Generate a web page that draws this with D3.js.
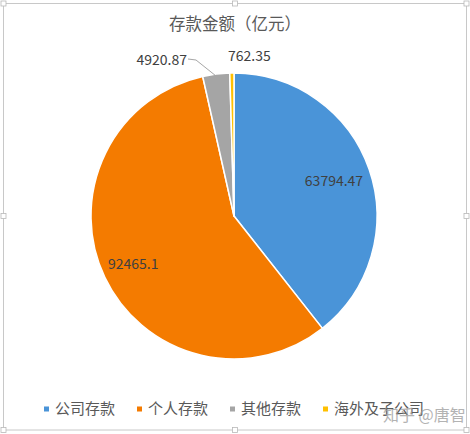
<!DOCTYPE html>
<html><head><meta charset="utf-8">
<script src="https://cdn.jsdelivr.net/npm/d3@7"></script>
<style>body{margin:0;background:#fff}svg{display:block}</style>
</head><body>
<script>
const categories = ["公司存款", "个人存款", "其他存款", "海外及子公司"];
const values = [63794.47, 92465.1, 4920.87, 762.35];
const labels = ["63794.47", "92465.1", "4920.87", "762.35"];
const colors = ["#4a94d8", "#f47b00", "#a5a5a5", "#ffc000"];
const title = "存款金额（亿元）";

const W = 470, H = 434;
const svg = d3.select("body").append("svg").attr("width", W).attr("height", H);
const font = "'Noto Sans CJK SC','Liberation Sans',sans-serif";

// frame
svg.append("rect").attr("x", 3.5).attr("y", 3.5).attr("width", 463).attr("height", 426.5)
  .attr("fill", "#fff").attr("stroke", "#c8c8c8").attr("stroke-width", 1);
const handles = [[3.5,3.5],[235,3.5],[466.5,3.5],[3.5,216],[466.5,216],[3.5,430],[235,430],[466.5,430]];
svg.selectAll("rect.h").data(handles).join("rect").attr("class","h")
  .attr("x", d => d[0]-2.5).attr("y", d => d[1]-2.5).attr("width", 5).attr("height", 5)
  .attr("fill", "#fff").attr("stroke", "#b8b8b8").attr("stroke-width", 0.8);

// title
svg.append("text").attr("x", 235).attr("y", 30).attr("text-anchor", "middle")
  .attr("font-family", font).attr("font-size", 16.5).attr("fill", "#595959").text(title);

// pie
const cx = 234, cy = 216, R = 143;
const pie = d3.pie().sort(null).value(d => d)(values);
const arc = d3.arc().innerRadius(0).outerRadius(R);
const g = svg.append("g").attr("transform", `translate(${cx},${cy})`);
g.selectAll("path").data(pie).join("path")
  .attr("d", arc).attr("fill", (d,i) => colors[i])
  .attr("stroke", "#fff").attr("stroke-width", 1.5).attr("stroke-linejoin", "round");

// labels
const lblFont = 14;
const lblRatio = [0.74, 0.78];
[0,1].forEach(i => {
  const r = R * lblRatio[i];
  const c = d3.arc().innerRadius(r).outerRadius(r).centroid(pie[i]);
  g.append("text").attr("x", c[0]).attr("y", c[1]).attr("dy", "0.35em")
    .attr("text-anchor", "middle").attr("font-family", font).attr("font-size", lblFont)
    .attr("fill", "#404040").text(labels[i]);
});
// outside labels with leader for small slices
const outer2 = d3.arc().innerRadius(R).outerRadius(R).centroid(pie[2]);
svg.append("polyline")
  .attr("points", `${cx-46},${cy-157} ${cx-38},${cy-156} ${cx+outer2[0]},${cy+outer2[1]+2}`)
  .attr("fill", "none").attr("stroke", "#a6a6a6").attr("stroke-width", 1);
svg.append("text").attr("x", cx-47).attr("y", cy-156).attr("dy", "0.35em")
  .attr("text-anchor", "end").attr("font-family", font).attr("font-size", lblFont)
  .attr("fill", "#404040").text(labels[2]);
svg.append("text").attr("x", cx-6).attr("y", cy-160).attr("dy", "0.35em")
  .attr("text-anchor", "start").attr("font-family", font).attr("font-size", lblFont)
  .attr("fill", "#404040").text(labels[3]);

// legend
const legX = [44, 137, 230, 323];
const lg = svg.append("g");
categories.forEach((c, i) => {
  lg.append("rect").attr("x", legX[i]).attr("y", 406.5).attr("width", 5).attr("height", 5).attr("fill", colors[i]);
  lg.append("text").attr("x", legX[i]+11).attr("y", 409).attr("dy", "0.35em")
    .attr("font-family", font).attr("font-size", 15).attr("fill", "#595959").text(c);
});

// watermark (overlaps legend in the reference image)
svg.append("text").attr("x", 383).attr("y", 415).attr("dy", "0.35em")
  .attr("font-family", font).attr("font-size", 16).attr("fill", "#9a9a9a").attr("opacity", 0.75)
  .text("知乎 @唐智");
</script>
</body></html>
